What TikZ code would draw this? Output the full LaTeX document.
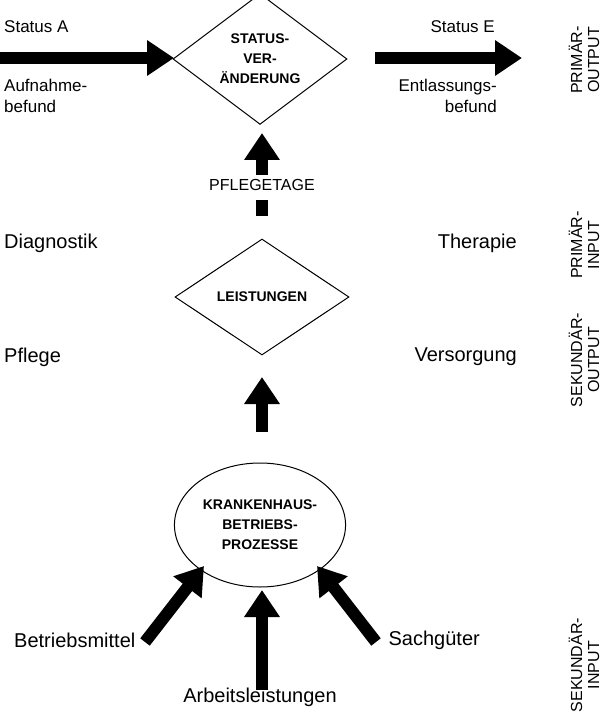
\documentclass[tikz,border=0pt]{standalone}
\usepackage{fontspec}
\setmainfont{Liberation Sans}
\usetikzlibrary{arrows.meta,shapes.geometric}
\begin{document}
\begin{tikzpicture}[x=1pt,y=-1pt,
  big/.style={line width=12pt,-{Triangle[length=27pt,width=34pt]}},
  lab/.style={font=\fontsize{20}{22}\selectfont,inner sep=0},
  small/.style={font=\fontsize{17}{21}\selectfont,inner sep=0,align=center},
  side/.style={font=\fontsize{16}{17}\selectfont,rotate=90,align=center,inner sep=0},
  dia/.style={diamond,draw,line width=1pt,minimum width=174pt,minimum height=116pt,inner sep=0,align=center,font=\fontsize{14}{20}\selectfont\bfseries},
]
\useasboundingbox (0,0) rectangle (608,714);
\node[dia] (status) at (260,59) {STATUS-\\VER-\\ÄNDERUNG};
\node[dia] (leist) at (262,297) {LEISTUNGEN};
\node[ellipse,draw,line width=1pt,minimum width=146pt,minimum height=124pt,align=center,font=\fontsize{14}{20}\selectfont\bfseries] (kh) at (260,525) {KRANKENHAUS-\\BETRIEBS-\\PROZESSE};
\coordinate (a0) at (0,58); \coordinate (a1) at (174,58);
\coordinate (e0) at (375,58); \coordinate (e1) at (522,58);
\draw[big] (a0) -- (a1);
\draw[big] (e0) -- (e1);
\node[small,anchor=west] (sa) at (4,27) {Status A};
\node[small,align=left,anchor=north west] (af) at (4,79) {Aufnahme-\\befund};
\node[small,anchor=east] (se) at (495,27) {Status E};
\node[small,align=right,anchor=north east] (ef) at (497,79) {Entlassungs-\\befund};
\node[small,font=\fontsize{16}{18}\selectfont] (pt) at (262,185) {PFLEGETAGE};
\coordinate (p0) at (262,216); \coordinate (p1) at (262,200);
\draw[line width=12pt] (p0) -- (p1);
\coordinate (p2) at (262,175); \coordinate (p3) at (262,133);
\draw[big] (p2) -- (p3);
\coordinate (l0) at (262,432); \coordinate (l1) at (262,377);
\draw[big] (l0) -- (l1);
\coordinate (b0) at (145,642); \coordinate (b1) at (204,566);
\coordinate (m0) at (262,690); \coordinate (m1) at (262,590);
\coordinate (s0) at (376,642); \coordinate (s1) at (317,566);
\draw[big] (b0) -- (b1);
\draw[big] (m0) -- (m1);
\draw[big] (s0) -- (s1);
\node[lab,anchor=west] (dg) at (4,243) {Diagnostik};
\node[lab,anchor=east] (th) at (517,243) {Therapie};
\node[lab,anchor=west] (pf) at (4,357) {Pflege};
\node[lab,anchor=east] (vs) at (517,357) {Versorgung};
\node[lab,anchor=west] (bm) at (14,640) {Betriebsmittel};
\node[lab,anchor=east] (sg) at (480,640) {Sachgüter};
\node[lab] (al) at (260,697) {Arbeitsleistungen};
\node[side] (r1) at (584,60) {PRIMÄR-\\OUTPUT};
\node[side] (r2) at (584,245) {PRIMÄR-\\INPUT};
\node[side] (r3) at (584,360) {SEKUNDÄR-\\OUTPUT};
\node[side] (r4) at (584,665) {SEKUNDÄR-\\INPUT};
\end{tikzpicture}
\end{document}
